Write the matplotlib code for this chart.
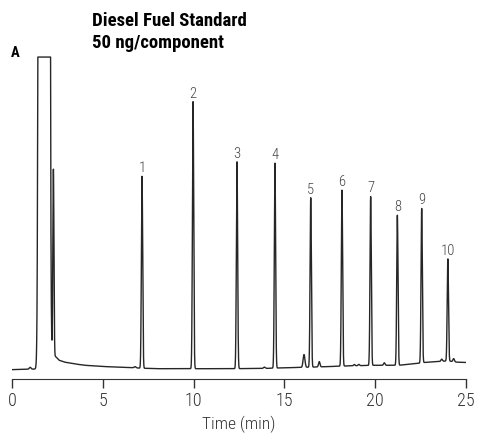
import numpy as np
import matplotlib.pyplot as plt

# retention times (min) and heights (signal units above baseline) of the numbered peaks
peak_labels = ['1', '2', '3', '4', '5', '6', '7', '8', '9', '10']
peak_times = [7.16, 9.97, 12.39, 14.48, 16.45, 18.17, 19.75, 21.22, 22.56, 24.0]
peak_heights = [61.5, 85.6, 66.3, 65.7, 54.3, 56.4, 54.1, 48.1, 49.5, 32.7]

# unlabelled peaks: solvent (off scale), early peak and small impurities
minor_times = [1.0, 2.28, 6.77, 13.9, 16.08, 16.92, 18.85, 19.1, 20.5, 23.66, 24.32]
minor_heights = [0.6, 60.0, 0.4, 0.4, 4.1, 1.7, 0.4, 0.4, 0.8, 0.7, 1.0]
minor_widths = [0.05, 0.03, 0.05, 0.05, 0.05, 0.04, 0.04, 0.04, 0.04, 0.04, 0.04]
solvent_time = 1.77

# baseline drift
base_t = [0.0, 1.4, 2.2, 2.4, 2.6, 2.9, 3.5, 4.0, 5.0, 6.0, 7.0, 8.0, 12.0, 14.0, 15.0,
          16.5, 17.5, 18.5, 20.0, 21.3, 22.5, 22.7, 24.0, 24.5, 25.0]
base_y = [-0.2, 0.0, 4.0, 4.0, 2.8, 2.2, 1.6, 1.2, 0.8, 0.6, 0.3, 0.1, 0.1, 0.2, 0.4,
          0.6, 0.8, 1.0, 1.2, 1.2, 1.9, 2.1, 2.6, 2.2, 2.1]

t = np.linspace(0, 25, 25001)
sig = np.interp(t, base_t, base_y)
sig = sig + 1e5 * np.exp(-(t - solvent_time) ** 2 / (2 * 0.095 ** 2))
for pt, ph in zip(peak_times, peak_heights):
    sig = sig + ph * np.exp(-(t - pt) ** 2 / (2 * 0.035 ** 2))
for pt, ph, pw in zip(minor_times, minor_heights, minor_widths):
    sig = sig + ph * np.exp(-(t - pt) ** 2 / (2 * pw ** 2))
sig = np.minimum(sig, 100)

plt.rcParams['font.family'] = ['Roboto Condensed', 'IBM Plex Sans Condensed',
                               'Liberation Sans', 'DejaVu Sans']

fig = plt.figure(figsize=(4.78, 4.34), dpi=100)
ax = fig.add_axes([12 / 478, 55 / 434, 454 / 478, 331.3 / 434])
ax.plot(t, sig, color='#262626', lw=1.0)

for lab, pt, ph in zip(peak_labels, peak_times, peak_heights):
    top = ph + np.interp(pt, base_t, base_y)
    ax.annotate(lab, (pt, top), xytext=(0, 3), textcoords='offset points',
                ha='center', va='baseline', fontsize=10.5, color='#444444',
                fontweight='light')

ax.set_xlim(0, 25)
ax.set_ylim(-3.2, 103)
ax.set_xticks([0, 5, 10, 15, 20, 25])
ax.tick_params(axis='x', direction='out', length=6.5, width=1, colors='#333333',
               labelsize=13, pad=3)
for lbl in ax.get_xticklabels():
    lbl.set_fontweight('light')
ax.set_yticks([])
for s in ['left', 'right', 'top']:
    ax.spines[s].set_visible(False)
ax.spines['bottom'].set_color('#333333')
ax.set_xlabel('Time (min)', fontsize=12.5, color='#333333', labelpad=4,
              fontweight='light')

fig.text(92 / 478, 1 - 26 / 434, 'Diesel Fuel Standard', fontsize=13.5,
         fontweight='bold', va='baseline')
fig.text(92 / 478, 1 - 48 / 434, '50 ng/component', fontsize=13.5,
         fontweight='bold', va='baseline')
fig.text(11 / 478, 1 - 57 / 434, 'A', fontsize=10.5, fontweight='bold', va='baseline')

fig.savefig('out.png', dpi=100)
